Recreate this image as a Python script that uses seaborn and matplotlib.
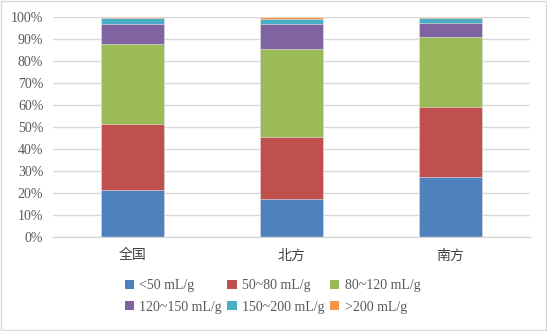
import matplotlib
matplotlib.use("Agg")
import matplotlib.pyplot as plt
from matplotlib.patches import Patch, Rectangle
from matplotlib.ticker import PercentFormatter
import numpy as np
import seaborn as sns

regions = ["全国", "北方", "南方"]
bins = ["<50 mL/g", "50~80 mL/g", "80~120 mL/g",
        "120~150 mL/g", "150~200 mL/g", ">200 mL/g"]
share_lt50 = [21.5, 17.3, 27.3]
share_50_80 = [30.0, 28.2, 32.1]
share_80_120 = [36.2, 40.1, 31.5]
share_120_150 = [9.4, 11.5, 6.6]
share_150_200 = [2.6, 2.0, 2.3]
share_gt200 = [0.3, 0.9, 0.2]
yticks = list(range(0, 101, 10))

colors = ["#4F81BD", "#C0504D", "#9BBB59", "#8064A2", "#4BACC6", "#F79646"]

sns.set_theme(style="white")
plt.rcParams["font.family"] = ["Liberation Serif", "Noto Sans CJK SC"]

fig = plt.figure(figsize=(5.47, 3.31), dpi=100)
ax = fig.add_axes([0.0969, 0.283, 0.872, 0.665])

layers = np.array([share_lt50, share_50_80, share_80_120,
                   share_120_150, share_150_200, share_gt200])
tops = np.cumsum(layers, axis=0)

# stack by overdrawing cumulative totals, tallest first
for i in range(len(bins) - 1, -1, -1):
    sns.barplot(x=regions, y=tops[i], color=colors[i], width=0.4,
                saturation=1, edgecolor="#eeeeee", linewidth=0.4, ax=ax)

ax.set_ylim(0, 100)
ax.set_xlim(-0.5, 2.5)
ax.set_yticks(yticks)
ax.yaxis.set_major_formatter(PercentFormatter(decimals=0))
ax.grid(axis="y", color="#d9d9d9", linewidth=1)
ax.set_axisbelow(True)
for s in ["left", "right", "top"]:
    ax.spines[s].set_visible(False)
ax.spines["bottom"].set_color("#d9d9d9")
ax.spines["bottom"].set_linewidth(1)
ax.tick_params(axis="y", length=0, pad=7, labelsize=10, labelcolor="#595959")
ax.tick_params(axis="x", length=0, pad=8, labelsize=10, labelcolor="#404040")
for lbl in ax.get_xticklabels():
    lbl.set_family(["Noto Sans CJK SC"])
ax.set_xlabel("")
ax.set_ylabel("")

# legend fills column by column; reorder so entries read across rows
order = [0, 3, 1, 4, 2, 5]
handles = [Patch(facecolor=colors[k], edgecolor="none") for k in order]
labels = [bins[k] for k in order]
fig.legend(handles, labels, loc="upper left", bbox_to_anchor=(0.228, 0.156),
           ncol=3, frameon=False, fontsize=10, handlelength=0.65,
           handleheight=0.65, handletextpad=0.4, columnspacing=0.4,
           labelspacing=0.6, borderaxespad=0, borderpad=0,
           labelcolor="#595959")

fig.patches.append(Rectangle((0.001, 0.002), 0.997, 0.995, transform=fig.transFigure,
                             fill=False, edgecolor="#d9d9d9", linewidth=1))

fig.savefig("out.png", dpi=100)
